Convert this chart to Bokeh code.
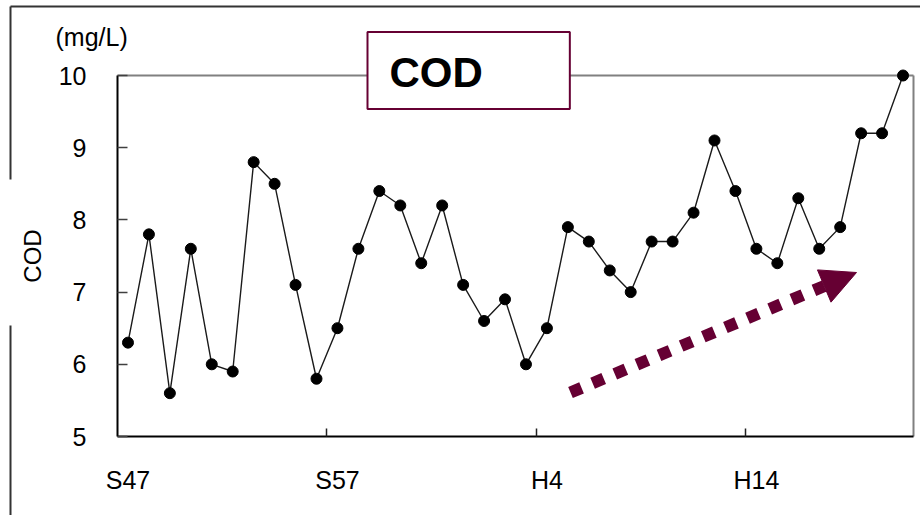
from bokeh.plotting import figure
from bokeh.models import (ColumnDataSource, Range1d, FixedTicker, LinearAxis,
                          Arrow, NormalHead, Label)
from bokeh.embed import file_html
from bokeh.resources import INLINE

# Survey years (Showa 47 .. Heisei 21) and annual mean COD (mg/L)
years = ["S47", "S48", "S49", "S50", "S51", "S52", "S53", "S54", "S55", "S56",
         "S57", "S58", "S59", "S60", "S61", "S62", "S63", "H1", "H2", "H3",
         "H4", "H5", "H6", "H7", "H8", "H9", "H10", "H11", "H12", "H13",
         "H14", "H15", "H16", "H17", "H18", "H19", "H20", "H21"]
cod = [6.3, 7.8, 5.6, 7.6, 6.0, 5.9, 8.8, 8.5, 7.1, 5.8,
       6.5, 7.6, 8.4, 8.2, 7.4, 8.2, 7.1, 6.6, 6.9, 6.0,
       6.5, 7.9, 7.7, 7.3, 7.0, 7.7, 7.7, 8.1, 9.1, 8.4,
       7.6, 7.4, 8.3, 7.6, 7.9, 9.2, 9.2, 10.0]
labelled_years = ["S47", "S57", "H4", "H14"]
y_ticks = [5, 6, 7, 8, 9, 10]

FONT = "Liberation Sans"
MAROON = "#660033"

n = len(years)
x_idx = list(range(n))
label_pos = [years.index(y) for y in labelled_years]
decade_marks = [i - 0.5 for i in label_pos[1:]]
y_lo, y_hi = y_ticks[0], y_ticks[-1]
x_lo, x_hi = -0.5, n - 0.5

# page layout in pixels: canvas size and the plot box inside it
W, H = 920, 515
BOX_L, BOX_R, BOX_T, BOX_B = 117, 913, 75, 436
ux = (BOX_R - BOX_L) / (x_hi - x_lo)      # pixels per year
uy = (BOX_B - BOX_T) / (y_hi - y_lo)      # pixels per mg/L


def dx(px):
    return x_lo + (px - BOX_L) / ux


def dy(py):
    return y_lo + (BOX_B - py) / uy


src = ColumnDataSource(dict(x=x_idx, cod=cod, year=years))

p = figure(width=W, height=H, output_backend="svg", toolbar_location=None,
           x_range=Range1d(dx(0), dx(W)), y_range=Range1d(dy(H), dy(0)),
           x_axis_location=None, y_axis_location=None,
           min_border=0, background_fill_color="white", border_fill_color="white")
p.outline_line_color = None
p.xgrid.visible = False
p.ygrid.visible = False

# value axis on the left edge of the plot box
yaxis = LinearAxis(ticker=FixedTicker(ticks=y_ticks), bounds=(y_lo, y_hi),
                   fixed_location=x_lo,
                   axis_line_color="black", axis_line_width=2,
                   major_tick_in=10, major_tick_out=0,
                   major_tick_line_color="#404040", major_tick_line_width=1.5,
                   minor_tick_line_color=None,
                   major_label_standoff=31,
                   major_label_text_font=FONT, major_label_text_font_size="25px",
                   major_label_text_color="black",
                   axis_label="COD", axis_label_text_font=FONT,
                   axis_label_text_font_style="normal",
                   axis_label_text_font_size="24px",
                   axis_label_text_color="black", axis_label_standoff=10)
p.add_layout(yaxis, "left")

# year axis: base line with a tick mark between decades
xaxis_ticks = LinearAxis(ticker=FixedTicker(ticks=decade_marks), bounds=(x_lo, x_hi),
                         fixed_location=y_lo,
                         major_label_overrides={t: "" for t in decade_marks},
                         axis_line_color="black", axis_line_width=2,
                         major_tick_in=8, major_tick_out=0,
                         major_tick_line_color="#202020", major_tick_line_width=1.5,
                         minor_tick_line_color=None, major_label_standoff=0)
p.add_layout(xaxis_ticks, "below")

# year axis: labels under the first year of each decade
xaxis_labels = LinearAxis(ticker=FixedTicker(ticks=label_pos), fixed_location=y_lo,
                          major_label_overrides={i: years[i] for i in label_pos},
                          axis_line_color=None, major_tick_line_color=None,
                          minor_tick_line_color=None,
                          major_tick_in=0, major_tick_out=0,
                          major_label_standoff=29,
                          major_label_text_font=FONT, major_label_text_font_size="25px",
                          major_label_text_color="black")
p.add_layout(xaxis_labels, "below")

# top and right edges of the plot box
p.segment(x0=[x_lo, x_hi], y0=[y_hi, y_lo], x1=[x_hi, x_hi], y1=[y_hi, y_hi],
          line_color="#808080", line_width=2)

# outer chart border (broken where the axis title sits)
p.segment(x0=[dx(10), dx(10), dx(10)], y0=[dy(6), dy(6), dy(325)],
          x1=[dx(W + 5), dx(10), dx(10)], y1=[dy(6), dy(179), dy(H + 5)],
          line_color="#333333", line_width=2)

# COD series
p.line("x", "cod", source=src, line_color="#1a1a1a", line_width=1.4)
p.scatter("x", "cod", source=src, size=11, fill_color="black", line_color="black")

# trend arrow
p.add_layout(Arrow(x_start=dx(570), y_start=dy(392), x_end=dx(856), y_end=dy(272),
                   line_color=MAROON, line_width=12, line_dash="12 12",
                   line_cap="butt",
                   end=NormalHead(size=35, fill_color=MAROON, line_color=MAROON)))

# unit label
p.add_layout(Label(x=dx(55), y=dy(36), text="(mg/L)", text_align="left",
                   text_baseline="middle", text_font=FONT, text_font_size="25px",
                   text_color="black"))

# boxed title
p.add_layout(Label(x=dx(367), y=dy(70), text="COD", text_align="left",
                   text_baseline="middle", text_font=FONT, text_font_size="42px",
                   text_font_style="bold", text_color="black",
                   background_fill_color="white",
                   border_line_color=MAROON, border_line_width=2,
                   padding=dict(left=22, right=87, top=17, bottom=13)))

open("out.html", "w").write(file_html(p, INLINE))
